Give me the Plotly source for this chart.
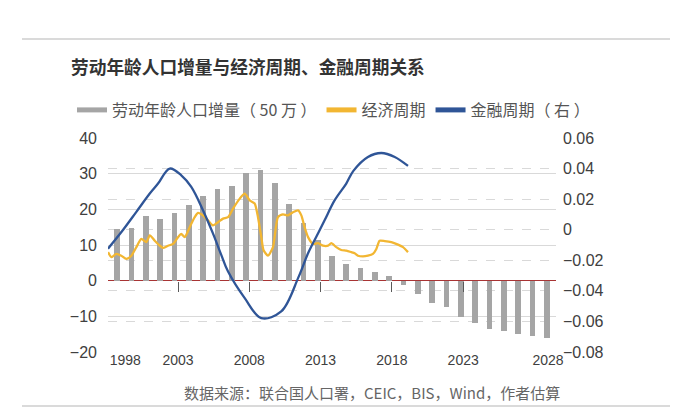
import plotly.graph_objects as go

# ---------------- data ----------------
title_text = "劳动年龄人口增量与经济周期、金融周期关系"
source_text = "数据来源：联合国人口署，CEIC，BIS，Wind，作者估算"

series_names = ["劳动年龄人口增量（ 50 万 ）", "经济周期", "金融周期（ 右 ）"]

bar_years = list(range(1998, 2029))
labor_increment = [14.4, 14.9, 18.1, 17.2, 18.9, 21.3, 23.6, 25.7, 26.5, 30.1,
                   30.9, 27.5, 21.5, 16.3, 11.4, 6.8, 4.6, 3.6, 2.3, 1.4,
                   -1.3, -3.6, -6.4, -7.3, -10.3, -11.9, -13.6, -14.2, -15.0,
                   -15.5, -16.2]

econ_t = [1998.09, 1998.32, 1998.67, 1999.02, 1999.37, 1999.73, 2000.08, 2000.43,
          2000.78, 2001.02, 2001.37, 2001.72, 2001.95, 2002.30, 2002.65, 2003.00,
          2003.23, 2003.47, 2003.82, 2004.17, 2004.40, 2004.75, 2005.10, 2005.45,
          2005.81, 2006.16, 2006.51, 2006.86, 2007.33, 2007.68, 2008.03, 2008.38,
          2008.61, 2008.85, 2009.00, 2009.31, 2009.66, 2010.01, 2010.36, 2010.71,
          2011.06, 2011.42, 2011.65, 2011.88, 2012.12, 2012.47, 2012.82, 2013.17,
          2013.52, 2013.75, 2014.10, 2014.45, 2014.80, 2015.15, 2015.39, 2015.62,
          2015.97, 2016.32, 2016.67, 2016.91, 2017.14, 2017.50, 2017.96, 2018.43,
          2018.78, 2019.13]
econ_v = [8.0, 6.6, 7.5, 7.0, 6.1, 7.0, 9.4, 11.7,
          10.8, 12.7, 11.2, 9.8, 9.2, 9.8, 10.3, 12.2,
          13.1, 12.2, 15.0, 17.8, 19.0, 18.3, 16.9, 15.5,
          16.4, 17.4, 17.8, 20.2, 23.0, 24.4, 22.5, 21.6,
          17.8, 12.0, 8.5, 7.0, 9.4, 17.8, 18.6, 18.3,
          19.2, 19.7, 18.3, 15.0, 12.2, 10.3, 10.5, 9.8,
          9.8, 10.5, 9.4, 8.6, 8.4, 8.0, 7.7, 7.0,
          6.8, 7.0, 7.5, 8.9, 11.2, 11.1, 10.8, 10.1,
          9.4, 8.0]

fin_t = [1998.09, 1999.14, 2000.08, 2001.02, 2001.60, 2002.42, 2003.23, 2003.93,
         2004.75, 2005.45, 2006.04, 2006.51, 2007.68, 2008.84, 2010.24, 2011.45,
         2012.12, 2012.70, 2013.29, 2013.99, 2014.80, 2015.30, 2016.32, 2017.26,
         2018.20, 2019.13]
fin_v = [-0.0124, -0.0002, 0.0117, 0.0237, 0.0302, 0.0400, 0.0356, 0.0280,
         0.0128, -0.0024, -0.0166, -0.0274, -0.0448, -0.0578, -0.0535, -0.0310,
         -0.0154, -0.0046, 0.0063, 0.0193, 0.0302, 0.0385, 0.0476, 0.0502,
         0.0476, 0.0417]

tick_years = [2003, 2008, 2013, 2018, 2023]
label_text = ["1998", "2003", "2008", "2013", "2018", "2023", "2028"]
label_pos = [1999.3, 2003, 2008, 2013, 2018, 2023, 2028.95]

# ---------------- style ----------------
GRAY = "#a5a5a5"
ORANGE = "#f2b632"
BLUE = "#2f5597"
GRID = "#d9d9d9"
TXT = "#404040"
NUM_FONT = "Liberation Sans, Arial, sans-serif"
CJK_FONT = "Noto Sans CJK SC, sans-serif"

W, H = 678, 412
L, R, T, B = 100, 130, 130, 68
PW, PH = W - L - R, H - T - B


def px_x(x):  # pixel -> paper x
    return (x - L) / PW


def px_y(y):  # pixel -> paper y
    return (H - B - y) / PH


left_range = [-20, 40]
right_range = [-0.08, 0.06]
bar_range = [1997.35, 2028.65]
line_range = [1998.09, 2029.51]

fig = go.Figure()

fig.add_trace(go.Bar(x=bar_years, y=labor_increment, marker_color=GRAY,
                     marker_line_width=0, width=0.4, xaxis="x", yaxis="y",
                     showlegend=False, hoverinfo="skip"))
fig.add_trace(go.Scatter(x=econ_t, y=econ_v, mode="lines",
                         line=dict(color=ORANGE, width=2.3, shape="spline", smoothing=0.6),
                         xaxis="x2", yaxis="y", showlegend=False))
fig.add_trace(go.Scatter(x=fin_t, y=fin_v, mode="lines",
                         line=dict(color=BLUE, width=2.3, shape="spline", smoothing=1.0),
                         xaxis="x2", yaxis="y2", showlegend=False))

# legend entries (thick line swatches like the original)
for name, col in zip(series_names, [GRAY, ORANGE, BLUE]):
    fig.add_trace(go.Scatter(x=[None], y=[None], mode="lines", name=name,
                             line=dict(color=col, width=5), xaxis="x2", yaxis="y"))

# dummy trace to activate xaxis3 ticks
fig.add_trace(go.Scatter(x=[None], y=[None], xaxis="x3", yaxis="y",
                         showlegend=False, hoverinfo="skip"))

zero_pos = (0 - left_range[0]) / (left_range[1] - left_range[0])

fig.update_layout(
    width=W, height=H,
    margin=dict(l=L, r=R, t=T, b=B, autoexpand=False),
    paper_bgcolor="white", plot_bgcolor="white",
    bargap=0,
    title=dict(text="<b>" + title_text + "</b>", x=63 / W, xref="container",
               xanchor="left", y=1 - 60 / H, yref="container", yanchor="middle",
               pad=dict(l=0, r=0, t=0, b=0),
               font=dict(family=CJK_FONT, size=17.7, color="#333333")),
    legend=dict(orientation="h", x=px_x(64), xref="paper", xanchor="left",
                y=px_y(102), yref="paper", yanchor="middle",
                font=dict(family=CJK_FONT, size=16, color="#555555"),
                tracegroupgap=0, bgcolor="rgba(0,0,0,0)"),
    xaxis=dict(range=bar_range, showgrid=False, showticklabels=False, ticks="",
               zeroline=False, showline=False, fixedrange=True),
    xaxis2=dict(range=line_range, overlaying="x", anchor="y", side="bottom",
                showgrid=False, zeroline=False, showline=False, ticks="",
                tickmode="array", tickvals=label_pos, ticktext=label_text,
                ticklabelstandoff=-2,
                tickfont=dict(family=NUM_FONT, size=14, color=TXT)),
    xaxis3=dict(range=line_range, overlaying="x", anchor="free", position=zero_pos,
                showgrid=False, zeroline=False, showline=False, showticklabels=False,
                ticks="outside", ticklen=10, tickwidth=1, tickcolor="#595959",
                tickmode="array", tickvals=tick_years),
    yaxis=dict(range=left_range, dtick=10, showgrid=True, gridcolor=GRID, gridwidth=1,
               zeroline=True, zerolinecolor="#a83434", zerolinewidth=1.2,
               showline=False, ticks="", ticklabelstandoff=10,
               tickfont=dict(family=NUM_FONT, size=16, color=TXT)),
    yaxis2=dict(range=right_range, dtick=0.02, overlaying="y", side="right",
                showgrid=True, gridcolor=GRID, gridwidth=1, griddash="dash",
                zeroline=False, showline=False, ticks="", ticklabelstandoff=6,
                tickfont=dict(family=NUM_FONT, size=16, color=TXT)),
    shapes=[
        dict(type="line", xref="paper", yref="paper", x0=px_x(14), x1=px_x(665),
             y0=px_y(31), y1=px_y(31), line=dict(color="#b5b5b5", width=1.2)),
        dict(type="line", xref="paper", yref="paper", x0=px_x(14), x1=px_x(665),
             y0=px_y(398), y1=px_y(398), line=dict(color="#b5b5b5", width=1.2)),
    ],
    annotations=[
        dict(text=source_text, xref="paper", yref="paper", x=px_x(364), y=px_y(384),
             xanchor="center", yanchor="middle", showarrow=False,
             font=dict(family=CJK_FONT, size=15, color="#666666")),
    ],
)

fig.write_html("out.html")
